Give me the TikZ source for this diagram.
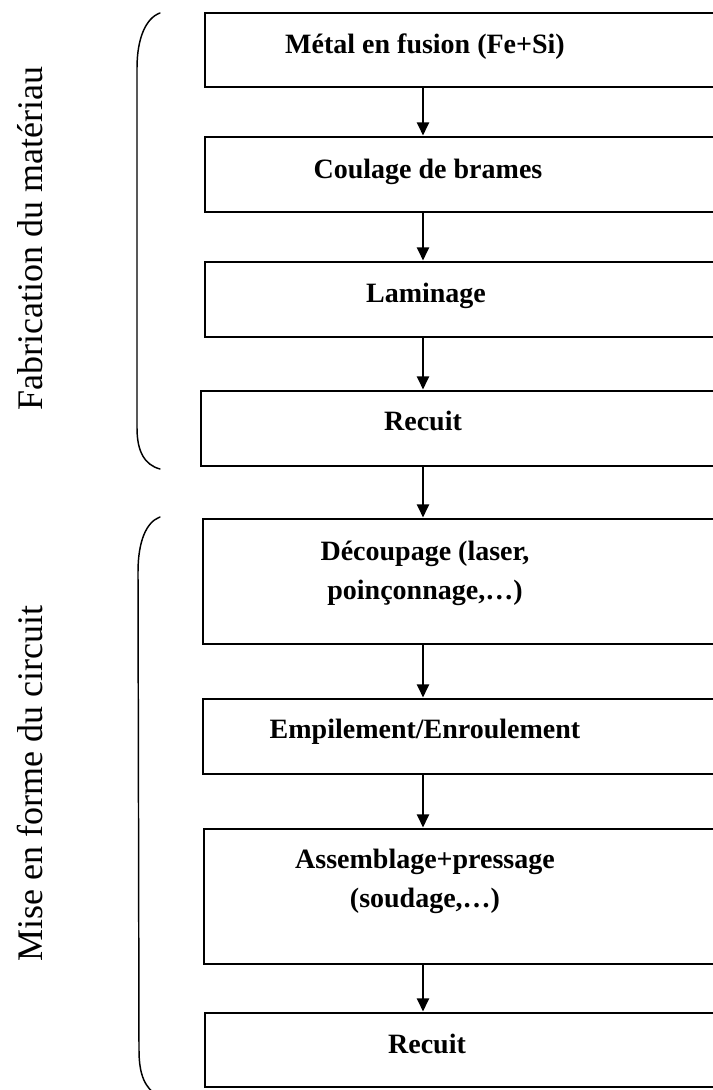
\documentclass[tikz,border=0pt]{standalone}
\usepackage{fontspec}
\setmainfont{Liberation Serif}
\usetikzlibrary{fit,arrows.meta}
\begin{document}
\begin{tikzpicture}[x=0.75pt,y=-0.75pt,
  stepbox/.style={draw=black, line width=1.5pt, inner sep=0pt, rectangle},
  txt/.style={font=\bfseries\fontsize{21}{29.25}\selectfont, anchor=base, inner sep=0pt},
  side/.style={font=\fontsize{27}{32}\selectfont, rotate=90, anchor=base, inner sep=0pt},
  arr/.style={line width=1.5pt, -{Triangle[length=9.75pt,width=9pt]}, shorten >=0.4pt},
  brk/.style={line width=1.1pt, line cap=round}]
\useasboundingbox (0,0) rectangle (713,1090);
\fill[white] (0,0) rectangle (713,1090);
% boxes
\node[stepbox, fit={(205,13) (730,87)}] (b1) {};
\node[stepbox, fit={(205,137) (730,212)}] (b2) {};
\node[stepbox, fit={(205,262) (730,337)}] (b3) {};
\node[stepbox, fit={(201,391) (730,466)}] (b4) {};
\node[stepbox, fit={(203,519) (730,644)}] (b5) {};
\node[stepbox, fit={(203,699) (730,774)}] (b6) {};
\node[stepbox, fit={(204,829) (730,964)}] (b7) {};
\node[stepbox, fit={(205,1013) (730,1087)}] (b8) {};
% texts
\node[txt] (t1) at (425,53) {Métal en fusion (Fe+Si)};
\node[txt] (t2) at (428,178) {Coulage de brames};
\node[txt] (t3) at (426,302) {Laminage};
\node[txt] (t4) at (423,430) {Recuit};
\node[txt] (t5) at (425,560) {\begin{tabular}[t]{@{}c@{}}Découpage (laser,\\poinçonnage,…)\end{tabular}};
\node[txt] (t6) at (425,738) {Empilement/Enroulement};
\node[txt] (t7) at (425,868) {\begin{tabular}[t]{@{}c@{}}Assemblage+pressage\\(soudage,…)\end{tabular}};
\node[txt] (t8) at (427,1053) {Recuit};
% arrows
\coordinate (ax) at (423,0);
\draw[arr] (b1.south -| ax) -- (b2.north -| ax);
\draw[arr] (b2.south -| ax) -- (b3.north -| ax);
\draw[arr] (b3.south -| ax) -- (b4.north -| ax);
\draw[arr] (b4.south -| ax) -- (b5.north -| ax);
\draw[arr] (b5.south -| ax) -- (b6.north -| ax);
\draw[arr] (b6.south -| ax) -- (b7.north -| ax);
\draw[arr] (b7.south -| ax) -- (b8.north -| ax);
% brackets
\draw[brk] (160,13) .. controls (146,18) and (137,38) .. (137,68) -- (137,428) .. controls (137,452) and (145,465) .. (160,469);
\draw[brk] (160,517) .. controls (146,522) and (138,542) .. (138,572) -- (139,1050) .. controls (139,1075) and (145,1088) .. (158,1096);
% side labels
\node[side] (s1) at (42,238.5) {Fabrication du matériau};
\node[side] (s2) at (42,783.5) {Mise en forme du circuit};
\end{tikzpicture}
\end{document}
